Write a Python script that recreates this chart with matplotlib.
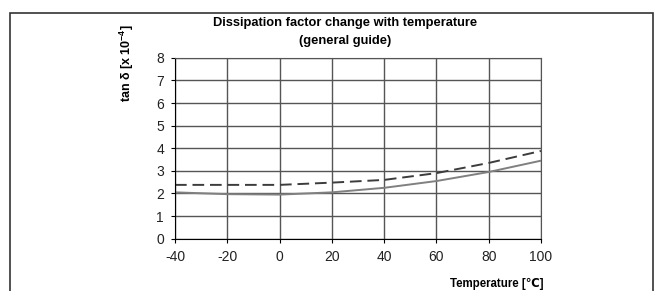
import matplotlib
matplotlib.use("Agg")
import matplotlib.pyplot as plt
from matplotlib.patches import Rectangle

plt.rcParams['font.family'] = ['Liberation Sans', 'DejaVu Sans']
plt.rcParams['axes.unicode_minus'] = False

temps = [-40, -20, 0, 20, 40, 60, 80, 100]
tan_solid = [2.05, 1.97, 1.95, 2.05, 2.25, 2.55, 2.95, 3.45]
tan_dashed = [2.38, 2.38, 2.38, 2.48, 2.60, 2.90, 3.35, 3.88]
x_ticks = [-40, -20, 0, 20, 40, 60, 80, 100]
y_ticks = [0, 1, 2, 3, 4, 5, 6, 7, 8]

fig = plt.figure(figsize=(6.56, 2.91), dpi=100)
ax = fig.add_axes([175 / 656, 1 - 238.7 / 291, (541 - 175) / 656, (238.7 - 57.8) / 291])

# outer frame around the whole chart (bottom edge cut off in the original)
fig.patches.append(Rectangle((10 / 656, -0.05), 643 / 656, 1.05 - 13 / 291,
                             transform=fig.transFigure, fill=False,
                             edgecolor='#333333', linewidth=1.2))

ax.plot(temps, tan_solid, color='#808080', linewidth=1.4)
ax.plot(temps, tan_dashed, color='#3c3c3c', linewidth=1.4, dashes=(6, 3))

ax.set_xlim(-40, 100)
ax.set_ylim(0, 8)
ax.set_xticks(x_ticks)
ax.set_yticks(y_ticks)
ax.grid(True, color='#555555', linewidth=1.0)
ax.set_axisbelow(True)
for s in ax.spines.values():
    s.set_color('#555555')
ax.spines['left'].set_color('black')
ax.spines['bottom'].set_color('black')
ax.tick_params(axis='both', labelsize=10, length=3, direction='out', pad=5,
               labelcolor='#222222')

fig.text(345 / 656, 1 - 23 / 291, 'Dissipation factor change with temperature',
         ha='center', va='center', fontsize=9.3, fontweight='bold')
fig.text(345 / 656, 1 - 41 / 291, '(general guide)',
         ha='center', va='center', fontsize=9.3, fontweight='bold')
fig.text(127 / 656, 1 - 63 / 291, r'tan δ [x 10$^{\mathregular{-4}}$]', rotation=90,
         ha='center', va='center', fontsize=9, fontweight='bold')
fig.text(544 / 656, 1 - 284 / 291, 'Temperature [℃]', ha='right', va='center',
         fontsize=8.3, fontweight='bold')

fig.savefig('out.png', dpi=100)
